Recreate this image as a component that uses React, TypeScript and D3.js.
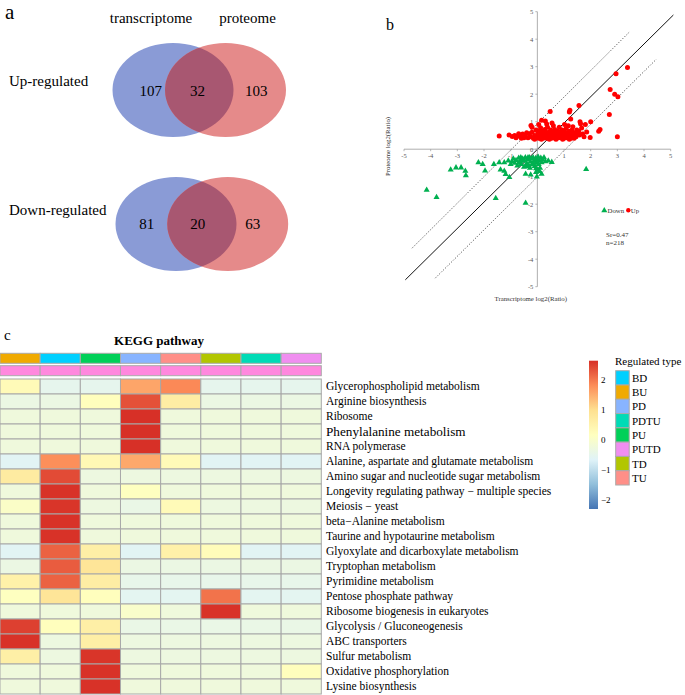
import React from "react";
import * as d3 from "d3";

// ---------- Panel a: Venn counts ----------
const vennSets = ["transcriptome", "proteome"];
const vennGroups = ["Up-regulated", "Down-regulated"];
const upCounts = [107, 32, 103];
const downCounts = [81, 20, 63];

// ---------- Panel b: scatter ----------
const axisTicks = [-5, -4, -3, -2, -1, 0, 1, 2, 3, 4, 5];
const upPoints: [number, number][] = [
  [3.38, 2.97], [2.95, 2.74], [2.73, 2.17], [2.9, 2.0], [3.02, 1.91], [2.7, 1.26], [3.0, 0.45],
  [1.56, 1.59], [1.22, 1.42], [1.2, 1.35], [0.48, 1.37], [1.25, 1.1], [0.16, 1.05], [0.3, 1.03],
  [-0.24, 0.86], [0.55, 0.95], [1.6, 1.0], [1.62, 0.93], [1.8, 0.9], [2.0, 1.0], [2.35, 0.72],
  [2.3, 0.65], [1.98, 0.43], [1.85, 0.63], [1.66, 0.77], [1.48, 0.7], [1.33, 0.82], [1.38, 0.4],
  [1.58, 0.52], [-1.43, 0.48], [-1.06, 0.52], [-0.94, 0.46], [-0.71, 0.48], [-0.59, 0.46], [-0.46, 0.48],
  [-0.35, 0.42], [-0.3, 0.55], [-0.25, 0.45], [-0.2, 0.62], [-0.15, 0.4], [-0.1, 0.5], [-0.05, 0.7],
  [0, 0.45], [0.02, 0.58], [0.05, 0.4], [0.08, 0.66], [0.1, 0.48], [0.12, 0.78], [0.15, 0.42],
  [0.18, 0.55], [0.2, 0.65], [0.22, 0.4], [0.25, 0.5], [0.28, 0.72], [0.3, 0.44], [0.33, 0.58],
  [0.36, 0.4], [0.38, 0.8], [0.4, 0.5], [0.42, 0.62], [0.45, 0.42], [0.48, 0.55], [0.5, 0.7],
  [0.53, 0.4], [0.55, 0.48], [0.58, 0.6], [0.6, 0.42], [0.63, 0.52], [0.65, 0.72], [0.68, 0.45],
  [0.7, 0.58], [0.73, 0.4], [0.76, 0.5], [0.78, 0.65], [0.8, 0.44], [0.83, 0.55], [0.86, 0.42],
  [0.88, 0.6], [0.9, 0.5], [0.93, 0.7], [0.96, 0.44], [0.98, 0.56], [1.0, 0.4], [1.03, 0.62],
  [1.05, 0.48], [1.08, 0.75], [1.1, 0.42], [1.13, 0.55], [1.16, 0.85], [1.18, 0.45], [1.2, 0.65],
  [1.23, 0.5], [1.26, 0.4], [1.28, 0.58], [1.3, 0.7], [1.35, 0.48], [1.4, 0.6], [1.45, 0.45],
  [1.5, 0.55], [1.55, 0.65], [1.7, 0.55], [1.75, 0.45], [-0.6, 0.4], [-0.55, 0.55], [-0.5, 0.42],
  [-0.4, 0.6], [-0.8, 0.42], [-0.85, 0.5], [-0.7, 0.56], [-0.2, 0.8], [0.05, 0.9], [0.35, 0.92],
  [0.6, 0.85], [0.82, 0.8], [1.02, 0.9], [0.95, 0.36], [0.45, 0.36], [0.15, 0.36], [-0.1, 0.36],
  [0.7, 0.36], [1.2, 0.36],
];
const downPoints: [number, number][] = [
  [-4.15, -1.48], [-3.78, -1.75], [-3.25, -0.75], [-3.05, -0.67], [-2.86, -0.67], [-2.7, -0.79],
  [-2.68, -0.96], [-2.21, -0.48], [-2.05, -0.55], [-1.96, -0.78], [-1.63, -0.55], [-1.43, -0.48],
  [-1.38, -0.75], [-1.24, -0.79], [-1.19, -0.91], [-1.24, -0.48], [-1.09, -0.42], [-1.05, -1.02],
  [-1.56, -1.78], [-0.44, -1.96], [-0.44, -0.9], [-0.25, -0.93], [-0.05, -0.84], [0.16, -0.9],
  [0.41, -0.42], [0.54, -0.47], [1.83, -0.73], [-0.02, -1.0],
  [-0.9, -0.35], [-0.85, -0.5], [-0.8, -0.4], [-0.75, -0.6], [-0.7, -0.32], [-0.65, -0.45],
  [-0.6, -0.55], [-0.55, -0.35], [-0.5, -0.65], [-0.48, -0.42], [-0.45, -0.3], [-0.4, -0.52],
  [-0.36, -0.38], [-0.32, -0.6], [-0.3, -0.3], [-0.26, -0.46], [-0.22, -0.35], [-0.2, -0.56],
  [-0.16, -0.3], [-0.12, -0.42], [-0.1, -0.62], [-0.06, -0.33], [-0.03, -0.5], [0, -0.38],
  [0.03, -0.28], [0.05, -0.55], [0.08, -0.42], [0.1, -0.68], [0.13, -0.32], [0.16, -0.48],
  [0.2, -0.38], [0.02, -0.75], [-0.05, -0.7], [0.08, -0.8], [-0.7, -0.5], [-0.62, -0.3],
  [-0.42, -0.62], [-0.28, -0.68], [-0.15, -0.5], [-0.95, -0.45], [-1.0, -0.55], [0.25, -0.3],
  [0.3, -0.45], [-0.35, -0.3], [-0.58, -0.42],
];
const diagonalLine = [[-4.95, -4.75], [5.1, 4.88]];
const upperBand = [[-4.7, -3.6], [3.44, 4.25]];
const lowerBand = [[-3.83, -4.69], [4.46, 3.27]];
const statsText = ["Sr=0.47", "n=218"];

// ---------- Panel c: heatmap ----------
const regTypes = ["BD", "BU", "PD", "PDTU", "PU", "PUTD", "TD", "TU"];
const regColors = ["#00d0ff", "#f0aa00", "#88b4ff", "#00dbb6", "#00d058", "#f08ef0", "#b2c600", "#ff8f88"];
const columnTypes = ["BU", "BD", "PU", "PD", "TU", "TD", "PDTU", "PUTD"];
const pathways = [
  "Glycerophospholipid metabolism",
  "Arginine biosynthesis",
  "Ribosome",
  "Phenylalanine metabolism",
  "RNA polymerase",
  "Alanine, aspartate and glutamate metabolism",
  "Amino sugar and nucleotide sugar metabolism",
  "Longevity regulating pathway \u2212 multiple species",
  "Meiosis \u2212 yeast",
  "beta\u2212Alanine metabolism",
  "Taurine and hypotaurine metabolism",
  "Glyoxylate and dicarboxylate metabolism",
  "Tryptophan metabolism",
  "Pyrimidine metabolism",
  "Pentose phosphate pathway",
  "Ribosome biogenesis in eukaryotes",
  "Glycolysis / Gluconeogenesis",
  "ABC transporters",
  "Sulfur metabolism",
  "Oxidative phosphorylation",
  "Lysine biosynthesis",
];
const heatValues = [
  [0.3, -0.5, -0.5, 1.58, 1.85, -0.5, -0.5, -0.5],
  [-0.35, -0.35, 0.2, 2.35, 0.65, -0.35, -0.35, -0.35],
  [-0.25, -0.25, -0.25, 2.64, -0.25, -0.25, -0.25, -0.25],
  [-0.25, -0.25, -0.25, 2.64, -0.25, -0.25, -0.25, -0.25],
  [-0.25, -0.25, -0.25, 2.64, -0.25, -0.25, -0.25, -0.25],
  [-0.6, 1.8, 0.35, 1.55, 0.3, -0.6, -0.6, -0.6],
  [0.7, 2.4, -0.3, -0.3, -0.3, -0.3, -0.3, -0.3],
  [-0.25, 2.62, -0.25, 0.15, -0.25, -0.25, -0.25, -0.25],
  [0.05, 2.6, -0.3, -0.4, 0.3, -0.3, -0.3, -0.3],
  [-0.25, 2.62, -0.25, -0.25, -0.25, -0.25, -0.25, -0.25],
  [-0.25, 2.62, -0.25, -0.25, -0.25, -0.25, -0.25, -0.25],
  [-0.6, 2.2, 0.6, -0.6, 0.55, 0.25, -0.6, -0.6],
  [-0.35, 2.25, 0.85, -0.35, -0.35, -0.35, -0.35, -0.35],
  [0.55, 2.2, 0.65, -0.45, -0.45, -0.45, -0.45, -0.45],
  [0.15, 0.85, 0.2, -0.55, -0.55, 2.05, -0.55, -0.55],
  [-0.25, -0.25, -0.25, 0.0, -0.25, 2.62, -0.25, -0.25],
  [2.5, 0.2, 0.6, -0.4, -0.4, -0.4, -0.4, -0.4],
  [2.62, -0.3, 0.6, -0.3, -0.3, -0.3, -0.3, -0.3],
  [0.6, -0.3, 2.6, -0.3, -0.3, -0.3, -0.3, -0.3],
  [-0.25, -0.25, 2.62, -0.25, -0.25, -0.25, -0.25, 0.2],
  [-0.25, -0.25, 2.62, -0.25, -0.25, -0.25, -0.25, -0.25],
];
const colorbarTicks = [2, 1, 0, -1, -2];
const heatDomain = [-2.3, 2.64];
const rdylbu = ["#4575B4", "#91BFDB", "#E0F3F8", "#FFFFBF", "#FEE090", "#FC8D59", "#D73027"];

const SERIF = "'Liberation Serif', 'Times New Roman', serif";

export default function App() {
  // ---- scatter scales
  const xS = d3.scaleLinear().domain([-5, 5]).range([404, 670.7]);
  const yS = d3.scaleLinear().domain([-5, 5]).range([286.7, 11.7]);
  const line = d3.line<number[]>().x((d) => xS(d[0])).y((d) => yS(d[1]));
  const tri = d3.symbol().type(d3.symbolTriangle).size(16)();

  // ---- heatmap scales
  const colX = d3.scaleBand<number>().domain(d3.range(columnTypes.length)).range([0, 321.3]);
  const rowY = d3.scaleBand<number>().domain(d3.range(pathways.length)).range([379, 694]);
  const stops = d3.range(rdylbu.length).map(
    (i) => heatDomain[0] + (i * (heatDomain[1] - heatDomain[0])) / (rdylbu.length - 1)
  );
  const heatColor = d3.scaleLinear<string>().domain(stops).range(rdylbu).interpolate(d3.interpolateRgb);
  const cbY = d3.scaleLinear().domain(heatDomain).range([509, 360.7]);
  const legY = d3.scaleBand<number>().domain(d3.range(regTypes.length)).range([370.7, 485]);
  const typeColor = (t: string) => regColors[regTypes.indexOf(t)];

  const venns = [
    { label: vennGroups[0], counts: upCounts, cy: 90, blue: 173, red: 225.5, labelY: 86, numY: 96, nx: [150.8, 197.5, 256.3] },
    { label: vennGroups[1], counts: downCounts, cy: 224, blue: 176, red: 227.7, labelY: 215, numY: 228.5, nx: [146.7, 197.8, 252.7] },
  ];

  return (
    <div style={{ position: "absolute", left: 0, top: 0 }}>
      <svg width={685} height={695} style={{ display: "block", background: "#fff" }} fontFamily={SERIF}>
        {/* ---------- Panel a ---------- */}
        <text x={5} y={18.5} fontSize={21}>a</text>
        <text x={151} y={23} fontSize={15} textAnchor="middle">{vennSets[0]}</text>
        <text x={247.5} y={23} fontSize={15} textAnchor="middle">{vennSets[1]}</text>
        <defs>
          {venns.map((v, i) => (
            <clipPath id={`blueclip${i}`} key={i}>
              <ellipse cx={v.blue} cy={v.cy} rx={60.5} ry={47} />
            </clipPath>
          ))}
          <linearGradient id="cbgrad" x1="0" y1="1" x2="0" y2="0">
            {stops.map((s, i) => (
              <stop key={i} offset={(s - heatDomain[0]) / (heatDomain[1] - heatDomain[0])} stopColor={rdylbu[i]} />
            ))}
          </linearGradient>
        </defs>
        {venns.map((v, i) => (
          <g key={i}>
            <ellipse cx={v.blue} cy={v.cy} rx={60.5} ry={47} fill="#8a9bd6" />
            <ellipse cx={v.red} cy={v.cy} rx={60.5} ry={47} fill="#e58a8a" />
            <ellipse cx={v.red} cy={v.cy} rx={60.5} ry={47} fill="#a85771" clipPath={`url(#blueclip${i})`} />
            <text x={9} y={v.labelY} fontSize={15}>{v.label}</text>
            {v.counts.map((c, j) => (
              <text key={j} x={v.nx[j]} y={v.numY} fontSize={15} textAnchor="middle">{c}</text>
            ))}
          </g>
        ))}

        {/* ---------- Panel b ---------- */}
        <text x={386} y={30} fontSize={16}>b</text>
        <path d={line(upperBand) || ""} stroke="#333" strokeWidth={0.8} strokeDasharray="1.2,1.6" fill="none" />
        <path d={line(lowerBand) || ""} stroke="#333" strokeWidth={0.8} strokeDasharray="1.2,1.6" fill="none" />
        <path d={line(diagonalLine) || ""} stroke="#111" strokeWidth={1} fill="none" />
        <line x1={xS(-5)} x2={xS(5)} y1={yS(0)} y2={yS(0)} stroke="#999" strokeWidth={0.8} />
        <line x1={xS(0)} x2={xS(0)} y1={yS(-5)} y2={yS(5)} stroke="#999" strokeWidth={0.8} />
        {axisTicks.map((t) => (
          <g key={`xt${t}`} fontSize={6.5} fill="#555">
            <line x1={xS(t)} x2={xS(t)} y1={yS(0)} y2={yS(0) + 2} stroke="#999" strokeWidth={0.7} />
            <text x={xS(t)} y={yS(0) + 9} textAnchor="middle">{t}</text>
            <line x1={xS(0) - 2} x2={xS(0)} y1={yS(t)} y2={yS(t)} stroke="#999" strokeWidth={0.7} />
            <text x={xS(0) - 4} y={yS(t) + 2.3} textAnchor="end">{t}</text>
          </g>
        ))}
        {upPoints.map((p, i) => (
          <circle key={`u${i}`} cx={xS(p[0])} cy={yS(p[1])} r={2.5} fill="#ff0000" />
        ))}
        {downPoints.map((p, i) => (
          <path key={`d${i}`} d={tri || ""} transform={`translate(${xS(p[0])},${yS(p[1])})`} fill="#00b050" />
        ))}
        <text x={390} y={146.5} fontSize={6.8} textAnchor="middle" transform="rotate(-90 390 146.5)" fill="#333">
          Proteome log2(Ratio)
        </text>
        <text x={530.7} y={301} fontSize={6.8} textAnchor="middle" fill="#333">Transcriptome log2(Ratio)</text>
        <path d={tri || ""} transform="translate(604.3,210.5)" fill="#00b050" />
        <text x={607.5} y={212.8} fontSize={6.8} fill="#333">Down</text>
        <circle cx={628.3} cy={210.3} r={2.2} fill="#ff0000" />
        <text x={630.8} y={212.8} fontSize={6.8} fill="#333">Up</text>
        {statsText.map((s, i) => (
          <text key={s} x={606} y={236.5 + i * 8.3} fontSize={7} fill="#333">{s}</text>
        ))}

        {/* ---------- Panel c ---------- */}
        <text x={4} y={340} fontSize={15}>c</text>
        <text x={159} y={345} fontSize={13} fontWeight="bold" textAnchor="middle">KEGG pathway</text>
        {columnTypes.map((t, j) => (
          <g key={`ann${j}`}>
            <rect x={colX(j)!} y={353.3} width={colX.bandwidth()} height={10} fill={typeColor(t)} stroke="#aaa" strokeWidth={1} />
            <rect x={colX(j)!} y={365.7} width={colX.bandwidth()} height={10} fill="#ff88de" stroke="#aaa" strokeWidth={1} />
          </g>
        ))}
        {heatValues.map((row, i) =>
          row.map((v, j) => (
            <rect key={`c${i}-${j}`} x={colX(j)!} y={rowY(i)!} width={colX.bandwidth()} height={rowY.bandwidth()}
              fill={heatColor(v)} stroke="#a8a8a8" strokeWidth={1} />
          ))
        )}
        {pathways.map((p, i) => (
          <text key={p} x={326} y={rowY(i)! + rowY.bandwidth() / 2 + (i === 3 ? 4.5 : 3.8)} fontSize={i === 3 ? 13.2 : 11.5}>
            {p}
          </text>
        ))}
        {/* colorbar */}
        <rect x={589} y={cbY(heatDomain[1])} width={9} height={cbY(heatDomain[0]) - cbY(heatDomain[1])} fill="url(#cbgrad)" />
        {colorbarTicks.map((t) => (
          <text key={`cb${t}`} x={601} y={cbY(t) + 3} fontSize={9}>{t < 0 ? `\u2212${Math.abs(t)}` : t}</text>
        ))}
        <text x={615} y={365} fontSize={11}>Regulated type</text>
        {regTypes.map((t, i) => (
          <g key={`lg${t}`}>
            <rect x={615.7} y={legY(i)!} width={13.5} height={legY.bandwidth()} fill={regColors[i]} stroke="#aaa" strokeWidth={1} />
            <text x={632} y={legY(i)! + legY.bandwidth() / 2 + 4} fontSize={11}>{t}</text>
          </g>
        ))}
      </svg>
    </div>
  );
}
